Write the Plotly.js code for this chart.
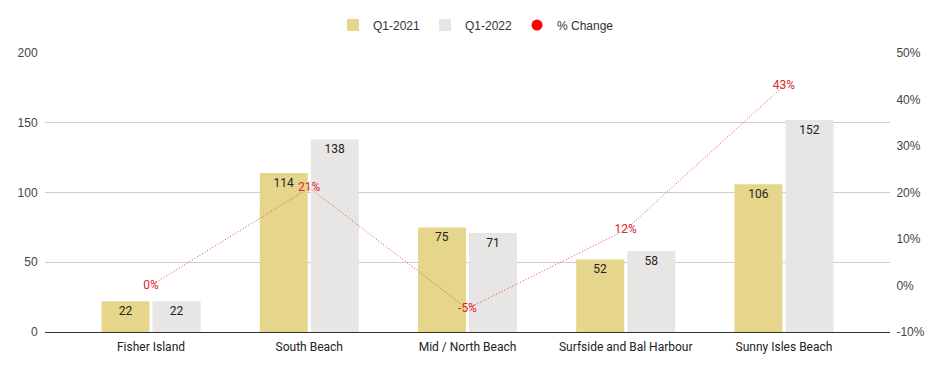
<!DOCTYPE html>
<html><head><meta charset="utf-8">
<script src="https://cdn.plot.ly/plotly-3.0.1.min.js"></script>
<style>html,body{margin:0;padding:0;background:#fff}#chart{width:944px;height:371px}</style>
</head><body><div id="chart"></div>
<script>
const categories = ["Fisher Island", "South Beach", "Mid / North Beach", "Surfside and Bal Harbour", "Sunny Isles Beach"];
const q1_2021 = [22, 114, 75, 52, 106];
const q1_2022 = [22, 138, 71, 58, 152];
const pctChange = [0, 21, -5, 12, 43];
const leftTicks = [0, 50, 100, 150, 200];
const rightTicks = [-10, 0, 10, 20, 30, 40, 50];

const labelFont = {family: "Roboto, sans-serif", size: 12, color: "#222"};
const traces = [
  {type: "bar", name: "Q1-2021", x: categories, y: q1_2021, marker: {color: "#e5d68c"},
   text: q1_2021.map(String), textposition: "inside", insidetextanchor: "end", textangle: 0,
   constraintext: "none", textfont: labelFont, hoverinfo: "none"},
  {type: "bar", name: "Q1-2022", x: categories, y: q1_2022, marker: {color: "#e8e6e5"},
   text: q1_2022.map(String), textposition: "inside", insidetextanchor: "end", textangle: 0,
   constraintext: "none", textfont: labelFont, hoverinfo: "none"},
  {type: "scatter", name: "% Change", x: categories, y: pctChange, yaxis: "y2",
   mode: "lines+text", line: {color: "#e8414a", width: 1, dash: "1px,2px"},
   text: pctChange.map(v => v + "%"), textposition: "middle center",
   textfont: {family: "Roboto, sans-serif", size: 12, color: "#e0262b"},
   showlegend: false, hoverinfo: "none", cliponaxis: false},
  {type: "scatter", name: "% Change", x: [null], y: [null], yaxis: "y2", mode: "markers",
   marker: {color: "#ff0000", size: 11}, showlegend: true, hoverinfo: "none"}
];

const layout = {
  width: 944, height: 371,
  margin: {l: 45, r: 54, t: 52, b: 39},
  paper_bgcolor: "#fff", plot_bgcolor: "#fff",
  barmode: "group", bargap: 0.355, bargroupgap: 0.059,
  font: {family: "Arial, 'Liberation Sans', sans-serif", size: 12, color: "#444"},
  showlegend: true,
  legend: {orientation: "h", x: 0.51, xanchor: "center", y: 1.096, yanchor: "middle",
           font: {family: "Arial, 'Liberation Sans', sans-serif", size: 12, color: "#333"},
           traceorder: "normal", itemwidth: 30},
  xaxis: {range: [-0.67, 4.67], tickfont: {family: "Roboto, sans-serif", size: 12, color: "#222"},
          showgrid: false, showline: false, ticks: "outside", ticklen: 4, tickcolor: "rgba(0,0,0,0)",
          fixedrange: true},
  yaxis: {range: [0, 200], tickvals: leftTicks, ticktext: leftTicks.map(String),
          gridcolor: "#cccccc", gridwidth: 1, zeroline: true, zerolinecolor: "#333", zerolinewidth: 1,
          showline: false, ticks: "outside", ticklen: 4, tickcolor: "rgba(0,0,0,0)",
          tickfont: {size: 12, color: "#444"}},
  yaxis2: {range: [-10, 50], overlaying: "y", side: "right", tickvals: rightTicks,
           ticktext: rightTicks.map(v => v + "%"), showgrid: false, zeroline: false,
           showline: false, ticks: "outside", ticklen: 3, tickcolor: "rgba(0,0,0,0)",
           tickfont: {size: 12, color: "#444"}}
};
Plotly.newPlot("chart", traces, layout, {displayModeBar: false, staticPlot: true});
</script></body></html>
